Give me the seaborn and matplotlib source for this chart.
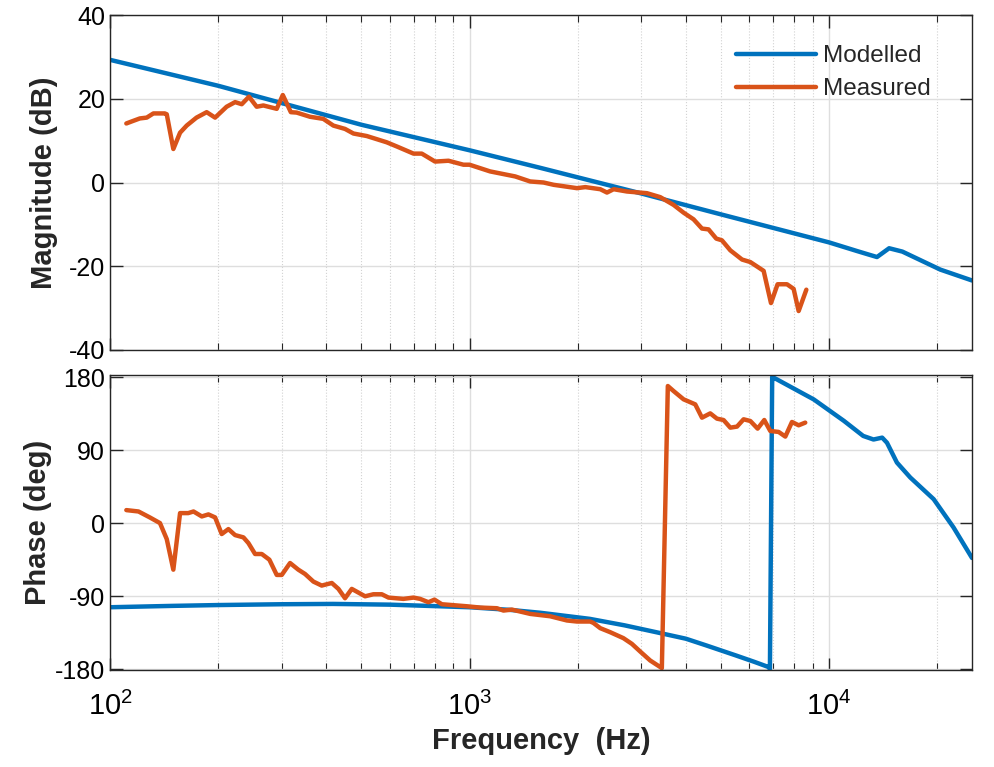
import numpy as np
import pandas as pd
import seaborn as sns
from matplotlib import pyplot as plt
import matplotlib.ticker as ticker

# modelled response
mod_mag_f = [100, 200, 500, 1000, 1574, 3000, 5000, 10000, 12000, 13000, 13600,
             14700, 16000, 20400, 25000]
mod_mag_db = [29.3, 23.1, 13.8, 7.7, 3.5, -2.6, -7.6, -14.3, -16.4, -17.3, -17.8,
              -15.7, -16.5, -20.8, -23.4]

mod_ph_f = [100, 150, 200, 300, 417, 600, 1000, 1300, 1574, 2160, 2700, 3310, 4000,
            4560, 5500, 6200, 6800, 6850, 6950, 7100, 9070, 11000, 12450, 13300,
            14060, 14500, 15450, 16830, 19550, 22200, 25000]
mod_ph_deg = [-103.7, -102, -101, -100, -99.6, -100.5, -103.7, -107, -110.5, -118,
              -126, -134.5, -142.5, -150.8, -163, -171, -177.5, -180, 180, 178,
              152.4, 126, 107.4, 103, 105.3, 99, 74.6, 56.2, 29.5, -5.3, -43]

# measured response
meas_mag_f = [111, 115, 121, 126.5, 132, 142, 143.8, 150, 156.6, 163.4, 174, 185.7,
              196, 211, 222.8, 232.5, 243.5, 255.8, 267, 290.9, 302.4, 318.4, 330.5,
              360, 392, 418, 450.5, 475.5, 517.8, 588.6, 628, 698.6, 736.6, 802, 874,
              962, 1000, 1141, 1340, 1475, 1607, 1714, 1990, 2100, 2311, 2412, 2517,
              2742, 3116, 3394, 3696, 3940, 4201, 4433, 4624, 4858, 5036, 5315, 5730,
              6042, 6580, 6897, 7195, 7640, 7973, 8234, 8650]
meas_mag_db = [14.1, 14.6, 15.3, 15.5, 16.5, 16.5, 16.3, 8.0, 11.9, 13.6, 15.5, 16.8,
               15.5, 18.1, 19.2, 18.7, 20.5, 18.1, 18.4, 17.6, 20.9, 16.8, 16.7,
               15.7, 15.2, 13.6, 12.8, 11.7, 11.1, 9.6, 8.6, 6.9, 6.9, 5.0, 5.2,
               4.25, 4.25, 2.65, 1.45, 0.25, 0.0, -0.55, -1.35, -1.1, -1.6, -2.4,
               -1.6, -2.15, -2.55, -3.5, -5.35, -7.2, -8.8, -11.0, -11.2, -13.4,
               -13.8, -16.2, -18.4, -19.0, -21.1, -28.8, -24.3, -24.3, -25.4, -30.7,
               -25.6]

meas_ph_f = [111, 120, 129, 137.7, 143.8, 150, 156.6, 165, 170.7, 180, 187.8, 196,
             204.5, 213.4, 222.8, 235, 242.6, 253.2, 264.3, 277.5, 290.9, 300.4,
             316.8, 334, 348.7, 367.9, 388, 413.9, 431.9, 450.5, 470.4, 512.3, 540.3,
             570.1, 595, 654.6, 698.6, 728.7, 768.7, 798.9, 837.5, 983, 1071, 1191,
             1243, 1312, 1475, 1676, 1866, 1990, 2166, 2211, 2311, 2461, 2680, 2829,
             2983, 3181, 3428, 3562, 3696, 3940, 4246, 4433, 4674, 4879, 5090, 5315,
             5548, 5787, 6042, 6331, 6607, 6866, 7245, 7560, 7889, 8234, 8590]
meas_ph_deg = [16.0, 14.3, 7.0, 0.0, -19.7, -57.4, 12.3, 12.3, 14.3, 8.2, 10.7, 7.0,
               -13.5, -7.4, -14.8, -17.6, -24.6, -38.1, -38.1, -45.1, -63.9, -63.9,
               -49.2, -57.4, -62.7, -72.1, -77.0, -73.8, -81.1, -92.6, -81.1, -90.2,
               -87.7, -87.7, -91.8, -93.4, -91.8, -93.4, -97.5, -94.3, -100.0,
               -102.5, -104.1, -104.9, -107.8, -106.6, -111.9, -114.8, -120.0,
               -121.3, -121.3, -123.0, -129.5, -134.4, -141.8, -148.8, -158.2,
               -169.3, -178.7, 168.9, 162.7, 152.5, 146.3, 129.9, 135.2, 128.7,
               127.0, 117.6, 118.9, 127.9, 125.8, 116.4, 127.0, 113.5, 112.3, 106.6,
               124.6, 120.5, 123.8]

blue = "#0072BD"
orange = "#D95319"

sns.set_theme(style="ticks")
plt.rcParams['font.family'] = ['Liberation Sans', 'DejaVu Sans']
plt.rcParams['axes.unicode_minus'] = False

fig = plt.figure(figsize=(9.94, 7.67), dpi=100)
ax1 = fig.add_axes([0.1107, 0.5437, 0.8672, 0.4367])
ax2 = fig.add_axes([0.1107, 0.1265, 0.8672, 0.3846], sharex=ax1)

lw = 3.2
sns.lineplot(x=mod_mag_f, y=mod_mag_db, ax=ax1, color=blue, linewidth=lw,
             label="Modelled")
sns.lineplot(x=meas_mag_f, y=meas_mag_db, ax=ax1, color=orange, linewidth=lw,
             label="Measured")
sns.lineplot(x=mod_ph_f, y=mod_ph_deg, ax=ax2, color=blue, linewidth=lw, legend=False)
sns.lineplot(x=meas_ph_f, y=meas_ph_deg, ax=ax2, color=orange, linewidth=lw,
             legend=False)

for ax in (ax1, ax2):
    ax.set_xscale("log")
    ax.set_xlim(100, 25000)
    ax.xaxis.set_major_locator(ticker.LogLocator(base=10))
    ax.xaxis.set_minor_locator(ticker.LogLocator(base=10, subs=np.arange(2, 10)))
    ax.grid(which="major", color="#dedede", linewidth=1.0, linestyle="-")
    ax.grid(which="minor", axis="x", color="#d2d2d2", linewidth=0.8, linestyle=":")
    ax.tick_params(which="both", direction="in", top=True, right=True,
                   colors="#262626", labelcolor="black", labelsize=18)
    ax.tick_params(which="major", length=9, width=1)
    ax.tick_params(which="minor", length=5, width=0.8)
    for s in ax.spines.values():
        s.set_color("#262626")
        s.set_linewidth(1.0)
    ax.set_axisbelow(True)

ax1.set_ylim(-40, 40)
ax1.set_yticks([-40, -20, 0, 20, 40])
ax1.tick_params(axis="x", which="both", labelbottom=False)
ax1.set_xlabel("")
ax1.set_ylabel("Magnitude (dB)", fontsize=21, fontweight="bold", labelpad=8)

ax2.set_ylim(-181, 182.5)
ax2.set_yticks([-180, -90, 0, 90, 180])
ax2.set_ylabel("Phase (deg)", fontsize=21, fontweight="bold", labelpad=2)
ax2.set_xlabel("Frequency  (Hz)", fontsize=21, fontweight="bold", labelpad=4)
ax2.tick_params(axis="x", which="major", pad=16, labelsize=21)

ax1.legend(loc="upper left", bbox_to_anchor=(0.726, 0.91), frameon=False,
           fontsize=17.5, handlelength=3.3, handletextpad=0.3, labelspacing=0.45,
           borderpad=0, borderaxespad=0)

fig.savefig("out.png", dpi=100)
